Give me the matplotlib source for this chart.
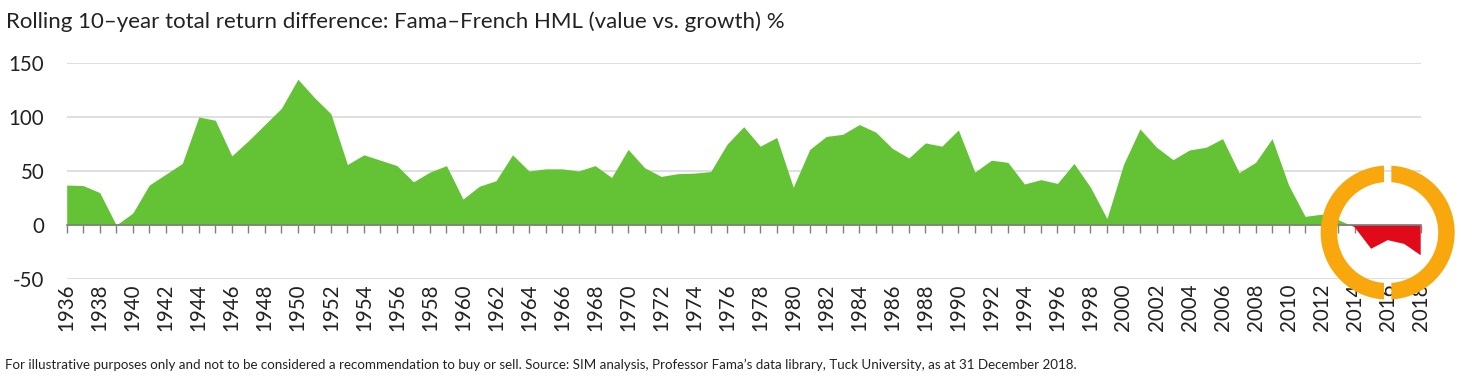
import matplotlib
matplotlib.use("Agg")
import matplotlib.pyplot as plt
import numpy as np
from matplotlib.patches import Polygon
from matplotlib.transforms import ScaledTranslation

# ---- data ----
years = list(range(1936, 2019))
values = [
    37, 36.5, 30, 0, 11, 37, 47, 57, 100, 97,          # 1936-1945
    64, 78, 93, 108, 135, 118, 103, 56, 65, 60,        # 1946-1955
    55, 40, 49, 55, 24, 36, 41, 65, 50, 52,            # 1956-1965
    52, 50, 55, 44, 70, 53, 45, 47.5, 48, 49.5,        # 1966-1975
    75, 91, 73, 81, 35, 70, 82, 84, 93, 86,            # 1976-1985
    71, 62, 76, 73, 88, 49, 60, 58, 38, 42,            # 1986-1995
    38.5, 57, 35, 6, 56, 89, 72, 60.5, 69.5, 72,       # 1996-2005
    80, 48.5, 58, 80, 37, 8, 10, 5, -2, -22,           # 2006-2015
    -14, -17.5, -28,                                   # 2016-2018
]
label_years = list(range(1936, 2019, 2))
y_ticks = [-50, 0, 50, 100, 150]
title = "Rolling 10\u2013year total return difference: Fama\u2013French HML (value vs. growth) %"
footer = ("For illustrative purposes only and not to be considered a recommendation to buy or sell. "
          "Source: SIM analysis, Professor Fama\u2019s data library, Tuck University, as at 31 December 2018.")
ring_center = (2016, -7)

GREEN = "#63C334"
RED = "#E10A1A"
ORANGE = "#F8A80D"
TEXT = "#222222"
FONT = "Lato"

plt.rcParams['font.family'] = [FONT, 'DejaVu Sans']

fig = plt.figure(figsize=(14.65, 3.8), dpi=100)
ax = fig.add_axes([66.7 / 1465, 101 / 380, (1420.7 - 66.7) / 1465, (279 - 63) / 380])

x = np.array(years, dtype=float)
y = np.array(values, dtype=float)
ax.fill_between(x, 0, y, where=y >= 0, interpolate=True, color=GREEN, linewidth=0, zorder=2)
ax.fill_between(x, 0, y, where=y <= 0, interpolate=True, color=RED, linewidth=0, zorder=2)

ax.set_xlim(1936, 2018)
ax.set_ylim(-50, 150)

# grid
ax.set_yticks(y_ticks)
ax.yaxis.grid(True, color="#D9D9D9", linewidth=1.2, zorder=0)
ax.set_axisbelow(True)
ax.tick_params(axis='y', length=0, pad=16, labelsize=14.8, labelcolor=TEXT)
ax.set_yticklabels([str(v) for v in y_ticks], fontfamily=FONT)

for s in ['top', 'right', 'left']:
    ax.spines[s].set_visible(False)
ax.spines['bottom'].set_position(('data', 0))
ax.spines['bottom'].set_color('#7F7F7F')
ax.spines['bottom'].set_linewidth(1.2)
ax.spines['bottom'].set_zorder(3)
ax.set_xticks(years)
ax.tick_params(axis='x', direction='out', length=6, width=1, color='#7F7F7F', labelbottom=False)

sec = ax.secondary_xaxis(0.0)
sec.spines['bottom'].set_visible(False)
sec.set_xticks(label_years)
sec.set_xticklabels([str(v) for v in label_years], rotation=90, fontfamily=FONT)
sec.tick_params(axis='x', length=0, pad=3, labelsize=14.8, labelcolor=TEXT)

# orange ring with vertical gaps (sizes in pixels / 100 -> inches)
R_out, R_in, gap = 0.67, 0.505, 0.073
trans = fig.dpi_scale_trans + ScaledTranslation(ring_center[0], ring_center[1], ax.transData)
def half_ring(sign):
    a_o = np.arcsin(gap / 2 / R_out)
    a_i = np.arcsin(gap / 2 / R_in)
    t_o = np.linspace(-np.pi / 2 + a_o, np.pi / 2 - a_o, 120)
    t_i = np.linspace(np.pi / 2 - a_i, -np.pi / 2 + a_i, 120)
    xs = np.concatenate([R_out * np.cos(t_o), R_in * np.cos(t_i)]) * sign
    ys = np.concatenate([R_out * np.sin(t_o), R_in * np.sin(t_i)])
    return np.column_stack([xs, ys])
for sgn in (1, -1):
    p = Polygon(half_ring(sgn), closed=True, facecolor=ORANGE, edgecolor='none',
                transform=trans, clip_on=False, zorder=10)
    ax.add_patch(p)

fig.text(6 / 1465, 1 - 22 / 380, title, fontsize=16.0, color=TEXT, va='center', ha='left', fontfamily=FONT)
fig.text(5 / 1465, 1 - 364.5 / 380, footer, fontsize=9.65, color=TEXT, va='center', ha='left', fontfamily=FONT)

fig.savefig("out.png", dpi=100)
